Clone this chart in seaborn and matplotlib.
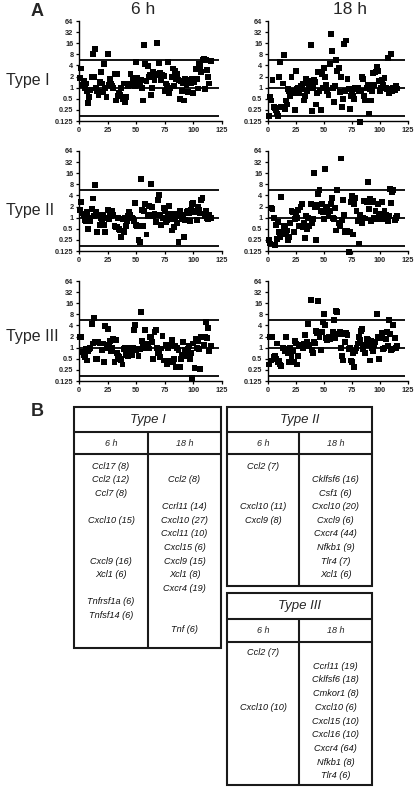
import numpy as np
import pandas as pd
import matplotlib
matplotlib.use("Agg")
import matplotlib.pyplot as plt
from matplotlib.patches import Rectangle
import seaborn as sns

sns.set_theme(style="ticks")
plt.rcParams['font.family'] = ['Liberation Sans', 'DejaVu Sans']

# fold change per gene (gene index 1..115)
type1_6h = [1.8, 3.3, 1.2, 1.5, 1.0, 1.3, 0.8, 0.38, 0.55, 0.85,
            1.9, 8.0, 2.0, 11.0, 1.0, 0.8, 0.65, 1.4, 2.7, 1.3,
            0.75, 4.5, 1.0, 0.55, 8.0, 1.2, 1.7, 1.3, 1.1, 1.0,
            2.3, 0.45, 2.4, 0.6, 0.7, 0.65, 1.0, 0.5, 1.3, 0.42,
            0.55, 1.3, 1.1, 1.3, 2.4, 1.2, 1.8, 1.5, 1.1, 5.0,
            1.8, 1.4, 1.2, 1.6, 1.0, 0.45, 14.0, 4.3, 1.5, 3.9,
            1.9, 2.2, 0.65, 1.0, 2.6, 1.6, 2.4, 16.0, 2.2, 4.7,
            2.5, 1.6, 2.2, 2.1, 0.8, 1.3, 1.1, 5.0, 0.7, 1.0,
            1.9, 3.3, 1.1, 2.8, 1.7, 2.3, 1.6, 0.5, 1.5, 0.8,
            1.3, 0.45, 1.7, 1.2, 0.75, 1.6, 1.5, 1.3, 1.7, 0.7,
            1.4, 3.2, 1.7, 0.95, 4.3, 3.8, 2.7, 5.5, 6.0, 0.9,
            5.5, 3.0, 1.9, 1.3, 5.2]
type1_18h = [0.17, 0.55, 0.45, 1.6, 0.3, 0.28, 0.25, 0.2, 0.17, 1.9,
             5.0, 0.3, 1.3, 7.5, 0.27, 0.45, 0.35, 0.9, 0.8, 0.6,
             2.0, 0.8, 0.7, 0.25, 2.8, 0.9, 1.0, 0.7, 1.1, 0.9,
             1.3, 0.45, 0.6, 1.7, 0.8, 1.5, 1.2, 14.0, 0.23, 1.0,
             1.6, 1.4, 0.35, 0.7, 2.7, 0.8, 0.25, 2.3, 1.0, 3.5,
             1.9, 1.2, 0.8, 0.65, 4.3, 28.0, 10.0, 1.0, 0.4, 1.1,
             5.5, 2.9, 3.4, 0.75, 1.9, 0.3, 0.5, 15.0, 0.8, 19.0,
             1.7, 0.9, 0.27, 0.6, 0.7, 0.6, 0.5, 1.0, 0.9, 1.0,
             0.8, 0.12, 0.8, 1.9, 1.7, 0.6, 0.45, 1.0, 1.2, 0.2,
             0.9, 0.45, 0.8, 2.5, 1.2, 2.6, 3.7, 2.8, 1.5, 0.8,
             1.0, 1.6, 1.2, 1.8, 1.0, 0.9, 6.5, 0.7, 0.9, 8.0,
             0.8, 1.0, 0.85, 1.1, 0.95]
type2_6h = [1.6, 2.6, 1.3, 1.2, 0.85, 0.8, 1.4, 0.5, 1.0, 0.8,
            1.7, 3.3, 1.1, 7.5, 1.4, 0.4, 1.2, 0.65, 1.0, 0.9,
            1.2, 0.65, 0.4, 1.0, 1.6, 0.9, 1.4, 1.1, 1.5, 1.2,
            0.6, 0.55, 0.55, 1.0, 0.5, 0.45, 0.3, 0.9, 0.4, 1.0,
            0.6, 0.8, 1.1, 1.4, 1.2, 1.0, 0.95, 0.8, 2.5, 0.65,
            0.6, 0.25, 0.22, 11.0, 1.6, 0.6, 1.5, 2.4, 0.35, 1.1,
            2.1, 1.2, 8.0, 1.9, 1.1, 1.3, 0.75, 1.2, 3.0, 4.0,
            1.2, 0.65, 1.0, 1.8, 1.5, 0.75, 0.85, 1.2, 2.1, 1.3,
            0.45, 0.9, 0.55, 1.0, 1.3, 0.7, 0.22, 1.5, 1.1, 0.9,
            1.2, 0.3, 0.85, 1.4, 1.5, 1.3, 0.8, 1.6, 2.3, 2.5,
            1.4, 1.5, 0.85, 2.0, 1.6, 1.3, 3.0, 3.4, 1.3, 1.1,
            1.5, 1.0, 0.9, 1.2, 1.0]
type2_18h = [0.25, 0.2, 1.8, 1.7, 1.0, 0.18, 0.65, 0.27, 0.75, 0.4,
             0.3, 3.6, 0.35, 0.6, 0.5, 0.4, 0.45, 0.25, 0.3, 0.7,
             1.5, 1.4, 0.4, 0.9, 1.2, 1.0, 1.6, 0.6, 1.9, 2.3,
             0.55, 0.7, 0.28, 1.1, 0.5, 1.0, 0.6, 2.4, 0.7, 0.9,
             16.0, 1.9, 0.25, 2.2, 4.5, 5.5, 1.5, 2.3, 1.4, 0.9,
             21.0, 1.6, 1.9, 1.1, 1.5, 2.4, 3.4, 1.0, 0.9, 1.8,
             0.45, 5.5, 0.7, 0.6, 40.0, 0.85, 3.0, 1.2, 0.4, 0.45,
             0.45, 0.12, 0.4, 2.6, 3.8, 0.35, 2.4, 3.4, 1.5, 0.8,
             0.2, 1.2, 0.9, 0.7, 1.0, 2.8, 0.95, 2.6, 9.0, 1.7,
             3.2, 0.8, 2.6, 2.8, 1.0, 1.5, 0.9, 2.4, 1.1, 1.0,
             1.3, 2.6, 0.9, 1.5, 1.2, 0.9, 0.8, 1.1, 6.0, 2.5,
             5.0, 5.7, 0.85, 1.0, 1.1]
type3_6h = [1.9, 1.9, 0.75, 0.65, 0.55, 0.9, 0.45, 0.8, 0.9, 1.0,
            4.3, 1.3, 6.5, 1.4, 0.5, 0.5, 1.4, 1.3, 1.3, 0.85,
            1.3, 0.4, 3.8, 1.0, 3.2, 1.2, 1.5, 0.8, 1.0, 1.7,
            0.4, 1.6, 0.7, 0.6, 0.55, 0.5, 0.45, 0.35, 0.9, 1.0,
            0.65, 0.75, 0.6, 1.0, 0.85, 0.65, 1.0, 3.0, 4.0, 0.85,
            0.95, 0.6, 0.9, 9.5, 1.5, 1.2, 1.0, 3.0, 1.3, 1.0,
            0.95, 2.0, 2.0, 1.4, 0.5, 2.7, 3.0, 1.0, 0.7, 0.75,
            0.55, 0.95, 2.1, 0.45, 0.45, 1.2, 0.35, 1.0, 1.2, 0.45,
            1.6, 0.4, 0.5, 1.1, 0.3, 1.0, 0.85, 0.3, 0.5, 0.65,
            1.4, 0.65, 0.85, 0.6, 0.9, 1.1, 0.5, 0.7, 0.15, 1.3,
            0.28, 1.7, 1.0, 1.5, 0.9, 0.26, 1.9, 2.0, 1.2, 1.9,
            5.0, 1.8, 3.5, 0.8, 1.1]
type3_18h = [0.35, 2.0, 0.45, 2.0, 0.55, 0.6, 0.5, 1.3, 0.4, 0.45,
             0.35, 0.32, 1.0, 0.95, 0.8, 2.0, 0.85, 0.7, 0.4, 1.0,
             0.6, 0.8, 0.4, 1.5, 1.3, 0.35, 0.6, 1.1, 1.2, 1.2,
             1.0, 1.3, 2.2, 1.1, 1.4, 4.5, 1.2, 20.0, 0.85, 0.7,
             1.4, 1.3, 2.9, 2.5, 18.0, 1.9, 0.85, 2.6, 5.0, 8.0,
             4.2, 1.8, 1.6, 2.0, 1.7, 1.9, 2.0, 2.6, 5.5, 1.8,
             10.0, 9.5, 2.4, 2.6, 1.0, 0.6, 0.45, 2.3, 1.4, 2.5,
             2.2, 0.9, 1.0, 0.45, 0.4, 0.7, 0.3, 0.8, 1.0, 1.3,
             2.0, 1.6, 2.8, 3.2, 0.9, 1.2, 0.7, 1.7, 1.6, 1.2,
             0.45, 1.5, 1.0, 0.8, 1.2, 1.4, 8.0, 2.0, 0.5, 1.9,
             1.8, 2.5, 0.9, 1.0, 1.7, 2.6, 1.1, 5.5, 2.3, 0.85,
             0.9, 4.0, 1.8, 1.0, 1.1]

cutoffs = [0.175, 1.0, 5.7]
y_ticks = [0.125, 0.25, 0.5, 1, 2, 4, 8, 16, 32, 64]
y_labels = ["0.125", "0.25", "0.5", "1", "2", "4", "8", "16", "32", "64"]
x_ticks = [0, 25, 50, 75, 100, 125]
times = ["6 h", "18 h"]
types = ["Type I", "Type II", "Type III"]

# table B contents, one entry per text line ("" = empty line)
tab1_6h = ["Ccl17 (8)", "Ccl2 (12)", "Ccl7 (8)", "", "Cxcl10 (15)", "", "",
           "Cxcl9 (16)", "Xcl1 (6)", "", "Tnfrsf1a (6)", "Tnfsf14 (6)", ""]
tab1_18h = ["", "Ccl2 (8)", "", "Ccrl11 (14)", "Cxcl10 (27)", "Cxcl11 (10)",
            "Cxcl15 (6)", "Cxcl9 (15)", "Xcl1 (8)", "Cxcr4 (19)", "", "", "Tnf (6)"]
tab2_6h = ["Ccl2 (7)", "", "", "Cxcl10 (11)", "Cxcl9 (8)"]
tab2_18h = ["", "Cklfsf6 (16)", "Csf1 (6)", "Cxcl10 (20)", "Cxcl9 (6)",
            "Cxcr4 (44)", "Nfkb1 (9)", "Tlr4 (7)", "Xcl1 (6)"]
tab3_6h = ["Ccl2 (7)", "", "", "", "Cxcl10 (10)"]
tab3_18h = ["", "Ccrl11 (19)", "Cklfsf6 (18)", "Cmkor1 (8)", "Cxcl10 (6)",
            "Cxcl15 (10)", "Cxcl16 (10)", "Cxcr4 (64)", "Nfkb1 (8)", "Tlr4 (6)"]

panels = [[type1_6h, type1_18h], [type2_6h, type2_18h], [type3_6h, type3_18h]]

W, H = 416, 788
fig = plt.figure(figsize=(W / 100, H / 100), dpi=100)

lefts = [79, 268]
widths = [143, 140]
tops = [21, 151, 281]
ax_h = 100

for r, row in enumerate(panels):
    for c, vals in enumerate(row):
        ax = fig.add_axes([lefts[c] / W, 1 - (tops[r] + ax_h) / H, widths[c] / W, ax_h / H])
        df = pd.DataFrame({"gene": np.arange(1, len(vals) + 1), "fold": vals})
        ax.hlines(cutoffs, 0, 122, color="black", lw=1.3, zorder=1)
        sns.scatterplot(data=df, x="gene", y="fold", ax=ax, marker="s", s=18,
                        color="black", edgecolor="none", linewidth=0,
                        clip_on=False, zorder=3)
        ax.set_yscale("log", base=2)
        ax.set_ylim(0.125, 64)
        ax.set_xlim(0, 125)
        ax.set_yticks(y_ticks)
        ax.set_yticklabels(y_labels)
        ax.minorticks_off()
        ax.set_xticks(x_ticks)
        ax.set_xticklabels([str(t) for t in x_ticks])
        ax.set_xlabel("")
        ax.set_ylabel("")
        ax.tick_params(length=2.5, width=0.9, pad=1.5, labelsize=5.3, color="black")
        for lab in ax.get_xticklabels() + ax.get_yticklabels():
            lab.set_fontweight("bold")
        sns.despine(ax=ax)
        for s in ["left", "bottom"]:
            ax.spines[s].set_linewidth(1.0)
            ax.spines[s].set_color("black")
        ax.set_facecolor("none")

# panel labels and headers
fig.text(37 / W, 1 - 11 / H, "A", fontsize=13, fontweight="bold", ha="center", va="center")
fig.text(37 / W, 1 - 412 / H, "B", fontsize=13, fontweight="bold", ha="center", va="center")
fig.text(143 / W, 1 - 10 / H, times[0], fontsize=12.5, ha="center", va="center")
fig.text(350 / W, 1 - 10 / H, times[1], fontsize=12.5, ha="center", va="center")
for r, lab in enumerate(types):
    fig.text(6 / W, 1 - [81, 211, 337][r] / H, lab, fontsize=11.5, ha="left", va="center")

# tables (panel B) on an overlay axis in pixel coordinates
tab = fig.add_axes([0, 0, 1, 1])
tab.set_xlim(0, W)
tab.set_ylim(H, 0)
tab.axis("off")
tab.patch.set_alpha(0)


def draw_table(x0, x1, xm, y0, y1, y2, y3, title, col6, col18, first, step):
    lw = 1.5
    tab.add_patch(Rectangle((x0, y0), x1 - x0, y3 - y0, fill=False, lw=lw, ec="#1a1a1a"))
    tab.plot([x0, x1], [y1, y1], color="#1a1a1a", lw=lw)
    tab.plot([x0, x1], [y2, y2], color="#1a1a1a", lw=lw)
    tab.plot([xm, xm], [y1, y3], color="#1a1a1a", lw=lw)
    tab.text((x0 + x1) / 2, (y0 + y1) / 2 + 0.5, title, style="italic", fontsize=9.5,
             ha="center", va="center")
    tab.text((x0 + xm) / 2, (y1 + y2) / 2, times[0], style="italic", fontsize=6.5,
             ha="center", va="center")
    tab.text((xm + x1) / 2, (y1 + y2) / 2, times[1], style="italic", fontsize=6.5,
             ha="center", va="center")
    for k, t in enumerate(col6):
        if t:
            tab.text((x0 + xm) / 2, first + k * step, t, style="italic", fontsize=6.6,
                     ha="center", va="center", color="#111111")
    for k, t in enumerate(col18):
        if t:
            tab.text((xm + x1) / 2, first + k * step, t, style="italic", fontsize=6.6,
                     ha="center", va="center", color="#111111")


draw_table(74, 221, 148, 407, 432, 454, 648, types[0], tab1_6h, tab1_18h, 466, 13.6)
draw_table(227, 372, 299, 407, 432, 454, 586, types[1], tab2_6h, tab2_18h, 466, 13.6)
draw_table(227, 372, 299, 593, 619, 642, 785, types[2], tab3_6h, tab3_18h, 652.5, 13.7)

fig.savefig("out.png", dpi=100)
